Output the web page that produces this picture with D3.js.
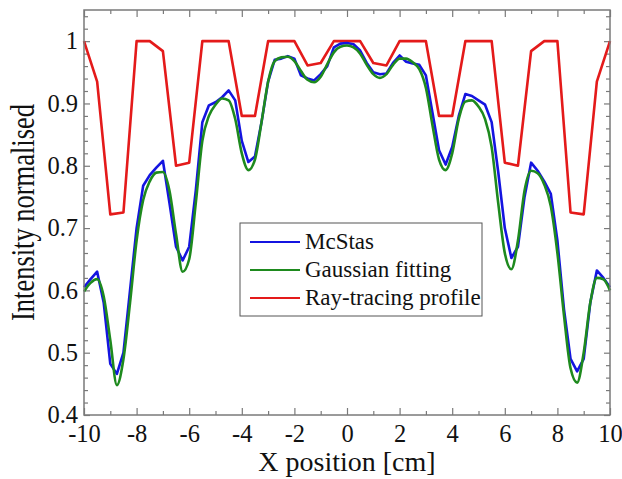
<!DOCTYPE html>
<html>
<head>
<meta charset="utf-8">
<script src="https://cdn.jsdelivr.net/npm/d3@7"></script>
<style>
  body { margin: 0; background: #fff; }
  svg { display: block; }
  text { font-family: "Liberation Serif", "DejaVu Serif", serif; fill: #111; }
</style>
</head>
<body>
<div id="chart"></div>
<script>
// x positions (cm) shared by McStas and Gaussian series
const xGrid = [
  -10, -9.75, -9.5, -9.25, -9, -8.75, -8.5, -8.25, -8, -7.75, -7.5, -7.25, -7, -6.75, -6.5, -6.25,
  -6, -5.75, -5.5, -5.25, -5, -4.75, -4.5, -4.25, -4, -3.75, -3.5, -3.25, -3, -2.75, -2.5, -2.25,
  -2, -1.75, -1.5, -1.25, -1, -0.75, -0.5, -0.25, 0, 0.25, 0.5, 0.75, 1, 1.25, 1.5, 1.75,
  2, 2.25, 2.5, 2.75, 3, 3.25, 3.5, 3.75, 4, 4.25, 4.5, 4.75, 5, 5.25, 5.5, 5.75,
  6, 6.25, 6.5, 6.75, 7, 7.25, 7.5, 7.75, 8, 8.25, 8.5, 8.75, 9, 9.25, 9.5, 9.75, 10
];

const mcstas = [
  0.605, 0.618, 0.630, 0.580, 0.482, 0.466, 0.500, 0.600, 0.700, 0.768, 0.785, 0.797, 0.808, 0.740, 0.670, 0.648,
  0.670, 0.760, 0.870, 0.897, 0.902, 0.910, 0.921, 0.905, 0.840, 0.806, 0.815, 0.870, 0.935, 0.970, 0.972, 0.976,
  0.972, 0.945, 0.940, 0.937, 0.947, 0.960, 0.990, 0.996, 0.997, 0.995, 0.985, 0.965, 0.950, 0.947, 0.948, 0.965,
  0.977, 0.967, 0.964, 0.962, 0.945, 0.885, 0.825, 0.802, 0.830, 0.880, 0.915, 0.912, 0.905, 0.898, 0.870, 0.790,
  0.700, 0.652, 0.670, 0.750, 0.805, 0.792, 0.775, 0.755, 0.680, 0.570, 0.490, 0.470, 0.490, 0.580, 0.632, 0.620, 0.605
];

const gaussian = [
  0.598, 0.612, 0.618, 0.590, 0.520, 0.448, 0.490, 0.580, 0.680, 0.745, 0.775, 0.789, 0.790, 0.760, 0.690, 0.630,
  0.650, 0.740, 0.840, 0.880, 0.898, 0.908, 0.905, 0.875, 0.820, 0.793, 0.810, 0.870, 0.935, 0.968, 0.974, 0.975,
  0.968, 0.952, 0.938, 0.934, 0.943, 0.963, 0.982, 0.991, 0.993, 0.990, 0.980, 0.962, 0.947, 0.941, 0.947, 0.962,
  0.972, 0.972, 0.966, 0.955, 0.925, 0.865, 0.810, 0.793, 0.820, 0.875, 0.903, 0.905, 0.895, 0.875, 0.830, 0.740,
  0.660, 0.634, 0.680, 0.760, 0.792, 0.788, 0.770, 0.735, 0.660, 0.560, 0.475, 0.452, 0.500, 0.580, 0.620, 0.618, 0.600
];

// ray-tracing profile, sampled every 0.5 cm
const rayX = [
  -10, -9.5, -9, -8.5, -8, -7.5, -7, -6.5, -6, -5.5, -5, -4.5, -4, -3.5, -3, -2.5, -2, -1.5, -1, -0.5,
  0, 0.5, 1, 1.5, 2, 2.5, 3, 3.5, 4, 4.5, 5, 5.5, 6, 6.5, 7, 7.5, 8, 8.5, 9, 9.5, 10
];
const rayY = [
  1.0, 0.935, 0.722, 0.725, 1.0, 1.0, 0.984, 0.800, 0.805, 1.0, 1.0, 1.0, 0.880, 0.880, 1.0, 1.0, 1.0, 0.961, 0.965, 1.0,
  1.0, 1.0, 0.965, 0.961, 1.0, 1.0, 1.0, 0.880, 0.880, 1.0, 1.0, 1.0, 0.805, 0.800, 0.984, 1.0, 1.0, 0.725, 0.722, 0.935, 1.0
];

const xTicks = [-10, -8, -6, -4, -2, 0, 2, 4, 6, 8, 10];
const yTicks = [0.4, 0.5, 0.6, 0.7, 0.8, 0.9, 1];

const W = 622, H = 479;
const margin = { top: 10, right: 12, bottom: 64, left: 84 };
const w = W - margin.left - margin.right;
const h = H - margin.top - margin.bottom;

const x = d3.scaleLinear().domain([-10, 10]).range([0, w]);
const y = d3.scaleLinear().domain([0.4, 1.05]).range([h, 0]);

const svg = d3.select('#chart').append('svg')
  .attr('width', W)
  .attr('height', H);

const g = svg.append('g')
  .attr('transform', `translate(${margin.left},${margin.top})`);

const frameColor = '#7a7a7a';

/* Axes: ticks point inward on all four sides */
function styleAxis(sel) {
  sel.select('.domain').remove();
  sel.selectAll('.tick line').attr('stroke', frameColor).attr('stroke-width', 1.2);
  sel.selectAll('.tick text')
    .style('font-family', '"Liberation Serif", serif')
    .style('font-size', '24.5px')
    .attr('fill', '#111');
}

const minorX = d3.range(-9, 10, 2);
const minorY = d3.range(0.42, 1.05, 0.02).filter(v => Math.abs(v * 10 - Math.round(v * 10)) > 0.01);

// bottom
g.append('g').attr('transform', `translate(0,${h})`)
  .call(d3.axisBottom(x).tickValues(xTicks).tickSizeInner(-7).tickSizeOuter(0).tickPadding(10).tickFormat(d => String(d)))
  .call(styleAxis);
g.append('g').attr('transform', `translate(0,${h})`)
  .call(d3.axisBottom(x).tickValues(minorX).tickSizeInner(-4).tickSizeOuter(0).tickFormat(''))
  .call(styleAxis);
// top
g.append('g')
  .call(d3.axisTop(x).tickValues(xTicks).tickSizeInner(-7).tickSizeOuter(0).tickFormat(''))
  .call(styleAxis);
g.append('g')
  .call(d3.axisTop(x).tickValues(minorX).tickSizeInner(-4).tickSizeOuter(0).tickFormat(''))
  .call(styleAxis);
// left
g.append('g')
  .call(d3.axisLeft(y).tickValues(yTicks).tickSizeInner(-6).tickSizeOuter(0).tickPadding(6).tickFormat(d => d === 1 ? '1' : d3.format('.1f')(d)))
  .call(styleAxis);
g.append('g')
  .call(d3.axisLeft(y).tickValues(minorY).tickSizeInner(-4).tickSizeOuter(0).tickFormat(''))
  .call(styleAxis);
// right
g.append('g').attr('transform', `translate(${w},0)`)
  .call(d3.axisRight(y).tickValues(yTicks).tickSizeInner(-6).tickSizeOuter(0).tickFormat(''))
  .call(styleAxis);
g.append('g').attr('transform', `translate(${w},0)`)
  .call(d3.axisRight(y).tickValues(minorY).tickSizeInner(-4).tickSizeOuter(0).tickFormat(''))
  .call(styleAxis);

/* Lines */
const plot = g.append('g');

const seriesLine = d3.line()
  .x(d => x(d[0]))
  .y(d => y(d[1]));

plot.append('path')
  .attr('d', seriesLine.curve(d3.curveLinear)(rayX.map((v, i) => [v, rayY[i]])))
  .attr('fill', 'none')
  .attr('stroke', '#e41a1a')
  .attr('stroke-width', 2.6)
  .attr('stroke-linejoin', 'round');

plot.append('path')
  .attr('d', seriesLine.curve(d3.curveLinear)(xGrid.map((v, i) => [v, mcstas[i]])))
  .attr('fill', 'none')
  .attr('stroke', '#1414e0')
  .attr('stroke-width', 2.6)
  .attr('stroke-linejoin', 'round');

plot.append('path')
  .attr('d', seriesLine.curve(d3.curveMonotoneX)(xGrid.map((v, i) => [v, gaussian[i]])))
  .attr('fill', 'none')
  .attr('stroke', '#1e8a1e')
  .attr('stroke-width', 2.6)
  .attr('stroke-linejoin', 'round');

/* Frame */
g.append('rect')
  .attr('width', w)
  .attr('height', h)
  .attr('fill', 'none')
  .attr('stroke', frameColor)
  .attr('stroke-width', 1.5);

/* Legend */
const legendItems = [
  { name: 'McStas', color: '#1414e0' },
  { name: 'Gaussian fitting', color: '#1e8a1e' },
  { name: 'Ray-tracing profile', color: '#e41a1a' }
];

const legend = svg.append('g').attr('transform', 'translate(240,223)');
legend.append('rect')
  .attr('width', 242)
  .attr('height', 93)
  .attr('fill', '#fff')
  .attr('stroke', '#555')
  .attr('stroke-width', 1);

legendItems.forEach((d, i) => {
  const yy = 19 + i * 28;
  legend.append('line')
    .attr('x1', 10).attr('x2', 60)
    .attr('y1', yy).attr('y2', yy)
    .attr('stroke', d.color)
    .attr('stroke-width', 2.2);
  legend.append('text')
    .attr('x', 65)
    .attr('y', yy + 7)
    .style('font-size', '23px')
    .text(d.name);
});

/* Axis titles */
svg.append('text')
  .attr('x', margin.left + w / 2)
  .attr('y', 471)
  .attr('text-anchor', 'middle')
  .style('font-size', '28px')
  .text('X position [cm]');

svg.append('text')
  .attr('transform', `translate(34,${margin.top + h / 2}) rotate(-90) scale(1,1.25)`)
  .attr('text-anchor', 'middle')
  .style('font-size', '26.5px')
  .text('Intensity normalised');
</script>
</body>
</html>
